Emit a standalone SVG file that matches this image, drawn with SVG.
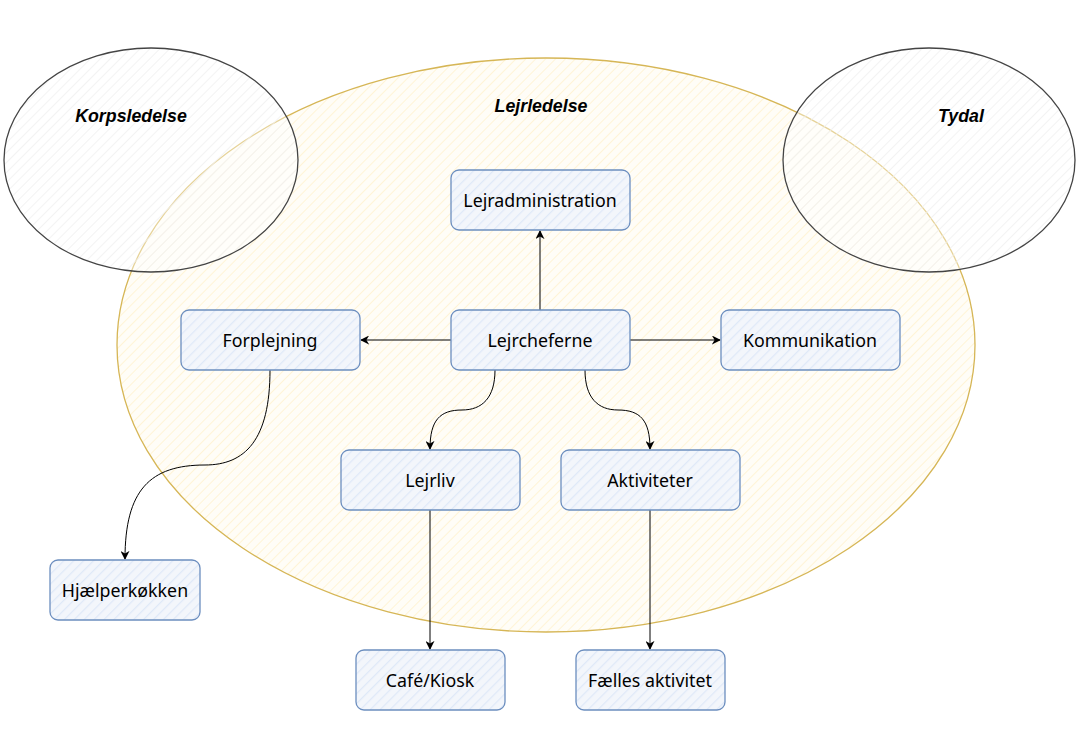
<svg xmlns="http://www.w3.org/2000/svg" width="1081" height="742" viewBox="0 0 1081 742">
<style>
.node rect{stroke:#6c8ebf;stroke-width:1.3;fill:url(#hb)}
.node text{font-family:"Noto Sans","Open Sans",sans-serif;font-size:17.8px;fill:#000;text-anchor:middle;dominant-baseline:central}
.grp ellipse{stroke-width:1.3}
.lbl{font-family:"Liberation Sans",Arial,sans-serif;font-size:17.8px;font-weight:bold;font-style:italic;text-anchor:middle;dominant-baseline:central;fill:#000}
.conn path{fill:none;stroke:#000;stroke-width:1;marker-end:url(#arr)}
</style>
<defs>
<pattern id="hb" width="7" height="7" patternUnits="userSpaceOnUse" patternTransform="rotate(45)">
<rect width="7" height="7" fill="#f3f6fb"/>
<line x1="0" y1="0" x2="0" y2="7" stroke="#dfe9f8" stroke-width="2.5"/>
</pattern>
<pattern id="hy" width="7" height="7" patternUnits="userSpaceOnUse" patternTransform="rotate(45)">
<rect width="7" height="7" fill="#fffdf7"/>
<line x1="0" y1="0" x2="0" y2="7" stroke="#fff4d6" stroke-width="2"/>
</pattern>
<pattern id="hg" width="7" height="7" patternUnits="userSpaceOnUse" patternTransform="rotate(45)">
<rect width="7" height="7" fill="#ffffff" fill-opacity="0.4"/>
<line x1="0" y1="0" x2="0" y2="7" stroke="#eeeeee" stroke-width="1.5"/>
</pattern>
<marker id="arr" viewBox="0 0 10 10" refX="9" refY="5" markerWidth="9" markerHeight="9" markerUnits="userSpaceOnUse" orient="auto">
<path d="M0,0 L10,5 L0,10 L3,5 Z" fill="#000"/>
</marker>
</defs>
<rect width="1081" height="742" fill="#ffffff"/>
<g id="lejrledelse" class="grp">
<ellipse cx="546" cy="345" rx="429" ry="287" fill="url(#hy)" stroke="#d6b656"/>
<text class="lbl" x="541" y="106">Lejrledelse</text>
</g>
<g id="korpsledelse" class="grp">
<ellipse cx="151" cy="160" rx="147" ry="112" fill="url(#hg)" stroke="#444444"/>
<text class="lbl" x="131" y="116">Korpsledelse</text>
</g>
<g id="tydal" class="grp">
<ellipse cx="929" cy="160" rx="146" ry="112" fill="url(#hg)" stroke="#444444"/>
<text class="lbl" x="961" y="116">Tydal</text>
</g>
<g id="connectors" class="conn">
<path d="M540 310 L540 231"/>
<path d="M451 340 L361 340"/>
<path d="M630 340 L720 340"/>
<path d="M495 370 C495 398 482 410 462 410 C440 410 430 420 430 449"/>
<path d="M585 370 C585 398 598 410 618 410 C640 410 650 420 650 449"/>
<path d="M270 370 C270 440 245 465 205 465 C150 465 125 490 125 559"/>
<path d="M430 510 L430 649"/>
<path d="M650 510 L650 649"/>
</g>
<g id="n-lejradministration" class="node"><rect x="451" y="170" width="179" height="60" rx="8"/><text x="540" y="200">Lejradministration</text></g>
<g id="n-lejrcheferne" class="node"><rect x="451" y="310" width="179" height="60" rx="8"/><text x="540" y="340">Lejrcheferne</text></g>
<g id="n-forplejning" class="node"><rect x="181" y="310" width="179" height="60" rx="8"/><text x="270" y="340">Forplejning</text></g>
<g id="n-kommunikation" class="node"><rect x="721" y="310" width="179" height="60" rx="8"/><text x="810" y="340">Kommunikation</text></g>
<g id="n-lejrliv" class="node"><rect x="341" y="450" width="179" height="60" rx="8"/><text x="430" y="480">Lejrliv</text></g>
<g id="n-aktiviteter" class="node"><rect x="561" y="450" width="179" height="60" rx="8"/><text x="650" y="480">Aktiviteter</text></g>
<g id="n-hjaelperkokken" class="node"><rect x="50" y="560" width="150" height="60" rx="8"/><text x="125" y="590">Hjælperkøkken</text></g>
<g id="n-cafe" class="node"><rect x="356" y="650" width="149" height="60" rx="8"/><text x="430" y="680">Café/Kiosk</text></g>
<g id="n-faelles" class="node"><rect x="576" y="650" width="149" height="60" rx="8"/><text x="650" y="680">Fælles aktivitet</text></g>
</svg>
